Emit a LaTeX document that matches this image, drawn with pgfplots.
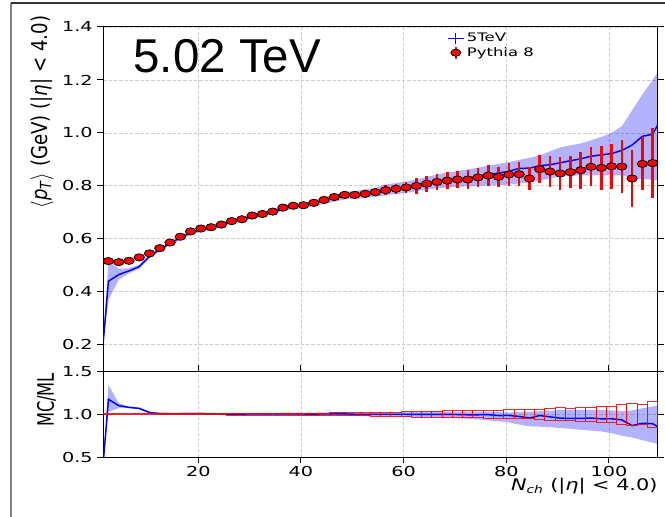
\documentclass[border=0pt]{standalone}
\usepackage{fontspec}
\setmainfont{DejaVu Sans}
\newfontfamily\widefont{DejaVu Sans}[FakeStretch=1.4]
\newfontfamily\xlabfont{DejaVu Sans}[FakeStretch=1.3]
\newfontfamily\titlefont{Liberation Sans}
\usepackage{pgfplots}
\usepackage{pgfplotstable}
\pgfplotsset{compat=1.18}
\usepgfplotslibrary{fillbetween}

\pgfplotstableread{
x y err e c
2.5 0.516 0.004 0.008 1
4.5 0.512 0.004 0.008 1
6.5 0.517 0.004 0.008 1
8.5 0.530 0.004 0.008 1
10.5 0.545 0.004 0.007 1
12.5 0.565 0.004 0.007 1
14.5 0.586 0.004 0.007 1
16.5 0.608 0.005 0.008 1
18.5 0.628 0.005 0.008 1
20.5 0.639 0.005 0.008 1
22.5 0.644 0.005 0.008 1
24.5 0.654 0.005 0.008 1
26.5 0.667 0.006 0.009 1
28.5 0.674 0.006 0.009 1
30.5 0.688 0.006 0.009 1
32.5 0.694 0.007 0.010 1
34.5 0.703 0.007 0.010 1
36.5 0.718 0.008 0.011 1
38.5 0.725 0.008 0.011 1
40.5 0.727 0.009 0.012 1
42.5 0.736 0.010 0.014 1
44.5 0.747 0.011 0.015 1
46.5 0.758 0.012 0.016 1
48.5 0.766 0.013 0.017 1
50.5 0.766 0.014 0.018 1
52.5 0.770 0.015 0.019 1
54.5 0.776 0.016 0.021 1
56.5 0.784 0.018 0.023 1
58.5 0.789 0.020 0.025 1
60.5 0.794 0.022 0.028 1
62.5 0.800 0.030 0.037 1
64.5 0.808 0.030 0.037 1
66.5 0.815 0.030 0.037 1
68.5 0.820 0.033 0.040 1
70.5 0.824 0.033 0.040 1
72.5 0.824 0.035 0.042 1
74.5 0.832 0.035 0.042 1
76.5 0.839 0.039 0.046 1
78.5 0.834 0.039 0.047 1
80.5 0.843 0.042 0.050 1
82.5 0.844 0.046 0.054 1
84.5 0.828 0.045 0.054 1
86.5 0.863 0.052 0.060 1
88.5 0.854 0.057 0.067 1
90.5 0.847 0.063 0.074 1
92.5 0.852 0.061 0.072 1
94.5 0.859 0.070 0.081 1
96.5 0.872 0.073 0.084 1
98.5 0.868 0.082 0.094 1
100.5 0.874 0.084 0.096 1
102.5 0.873 0.100 0.115 1
104.5 0.828 0.107 0.129 1
106.5 0.883 0.100 0.113 1
108.5 0.886 0.132 0.149 1
}\redtab

\pgfplotstableread{
x y lo hi
1.5 0.215 0.205 0.225
2.5 0.440 0.370 0.515
4.5 0.465 0.445 0.487
6.5 0.479 0.470 0.489
8.5 0.495 0.487 0.503
10.5 0.534 0.527 0.541
12.5 0.560 0.553 0.567
14.5 0.583 0.576 0.590
16.5 0.604 0.597 0.611
18.5 0.623 0.616 0.630
20.5 0.634 0.627 0.641
22.5 0.641 0.634 0.648
24.5 0.653 0.646 0.660
26.5 0.666 0.659 0.673
28.5 0.673 0.666 0.680
30.5 0.685 0.677 0.693
32.5 0.691 0.683 0.699
34.5 0.701 0.693 0.709
36.5 0.715 0.706 0.724
38.5 0.722 0.713 0.731
40.5 0.725 0.715 0.735
42.5 0.735 0.724 0.746
44.5 0.744 0.732 0.756
46.5 0.753 0.740 0.766
48.5 0.763 0.749 0.777
50.5 0.766 0.751 0.781
52.5 0.770 0.754 0.786
54.5 0.776 0.759 0.793
56.5 0.784 0.765 0.805
58.5 0.789 0.769 0.811
60.5 0.794 0.774 0.816
62.5 0.802 0.780 0.824
64.5 0.810 0.786 0.834
66.5 0.817 0.791 0.843
68.5 0.822 0.795 0.850
70.5 0.826 0.797 0.856
72.5 0.829 0.798 0.862
74.5 0.837 0.800 0.869
76.5 0.843 0.801 0.876
78.5 0.848 0.803 0.883
80.5 0.855 0.805 0.890
82.5 0.866 0.809 0.898
84.5 0.867 0.813 0.906
86.5 0.876 0.820 0.915
88.5 0.880 0.828 0.930
90.5 0.887 0.835 0.945
92.5 0.895 0.838 0.953
94.5 0.902 0.840 0.960
96.5 0.912 0.840 0.972
98.5 0.917 0.840 0.985
100.5 0.922 0.840 1.000
102.5 0.934 0.840 1.025
104.5 0.954 0.830 1.085
106.5 0.987 0.826 1.145
108.5 0.995 0.823 1.200
109.5 1.030 0.820 1.230
}\bluetab

\pgfplotstableread{
x r rlo rhi
1.5 0.45 0.44 0.47
2.5 1.174 1.03 1.34
4.5 1.100 1.07 1.13
6.5 1.080 1.07 1.09
8.5 1.068 1.058 1.078
10.5 1.020 1.010 1.030
12.5 1.008 0.998 1.018
14.5 1.006 0.996 1.016
16.5 1.006 0.996 1.016
18.5 1.008 0.997 1.019
20.5 1.008 0.997 1.019
22.5 1.004 0.993 1.015
24.5 1.002 0.991 1.013
26.5 1.002 0.991 1.013
28.5 1.002 0.990 1.014
30.5 1.004 0.992 1.016
32.5 1.004 0.991 1.017
34.5 1.003 0.990 1.016
36.5 1.004 0.990 1.018
38.5 1.004 0.990 1.018
40.5 1.003 0.988 1.018
42.5 1.002 0.986 1.018
44.5 1.004 0.987 1.021
46.5 1.006 0.988 1.024
48.5 1.004 0.985 1.023
50.5 1.000 0.980 1.020
52.5 1.000 0.979 1.021
54.5 1.000 0.978 1.022
56.5 1.000 0.975 1.025
58.5 1.000 0.974 1.026
60.5 1.000 0.972 1.028
62.5 0.998 0.968 1.028
64.5 0.998 0.965 1.029
66.5 0.998 0.962 1.030
68.5 0.998 0.958 1.030
70.5 0.997 0.953 1.030
72.5 0.994 0.947 1.030
74.5 0.994 0.940 1.030
76.5 0.995 0.930 1.028
78.5 0.985 0.918 1.025
80.5 0.986 0.905 1.020
82.5 0.975 0.880 1.025
84.5 0.955 0.860 1.030
86.5 0.985 0.855 1.035
88.5 0.970 0.850 1.040
90.5 0.955 0.840 1.050
92.5 0.952 0.830 1.050
94.5 0.952 0.820 1.050
96.5 0.956 0.810 1.050
98.5 0.947 0.800 1.050
100.5 0.948 0.780 1.045
102.5 0.935 0.750 1.035
104.5 0.868 0.730 1.045
106.5 0.895 0.700 1.070
108.5 0.890 0.670 1.090
109.5 0.857 0.655 1.100
}\ratiotab

\pgfdeclareplotmark{nothing}{}

\pgfplotsset{
  panel/.style={
    scale only axis, width=415.8pt,
    xmin=1.5, xmax=109.5,
    axis line style={black, line width=0.75pt},
    tick align=outside, major tick length=4.5pt,
    tick style={black, line width=0.75pt},
    grid=major,
    major grid style={gray!40, dash pattern=on 2.4pt off 1.6pt, line width=0.6pt},
    ticklabel style={font=\widefont\fontsize{10.3}{12}\selectfont},
    /pgf/number format/assume math mode=true,
    xtick={20,40,60,80,100},
  },
}

\begin{document}
\begin{tikzpicture}[x=0.75pt,y=0.75pt]
% upper panel
\begin{axis}[panel,
  at={(77.5pt,109.3pt)}, anchor=south west, height=258.2pt,
  ymin=0.1, ymax=1.4,
  ytick={0.2,0.4,0.6,0.8,1.0,1.2,1.4},
  yticklabel style={/pgf/number format/.cd, fixed, fixed zerofill, precision=1},
  xmajorticks=false,
  ylabel={\scalebox{1}[1.2]{$\langle$\textit{p}\textsubscript{\textit{T}}$\rangle$ (GeV) (|\textit{η}| < 4.0)}},
  ylabel style={at={(axis description cs:-0.1106,0.753)}, anchor=center, font=\fontsize{13.6}{15}\selectfont},
  legend style={at={(0.62,0.99)}, anchor=north west, draw=none, fill=none,
    font=\widefont\fontsize{8.8}{10}\selectfont, inner sep=0pt, row sep=-1.5pt},
  legend cell align=left,
]
\addplot[name path=bhi, draw=none, forget plot] table[x=x,y=hi]{\bluetab};
\addplot[name path=blo, draw=none, forget plot] table[x=x,y=lo]{\bluetab};
\addplot[fill=blue, fill opacity=0.3, draw=none, forget plot] fill between[of=bhi and blo];
\addplot[blue, line width=1.1pt, forget plot] table[x=x,y=y]{\bluetab};
\addplot[forget plot, only marks, mark=*, mark size=2.7pt,
  mark options={fill=red, draw=black, line width=0.6pt, xscale=1.45},
  error bars/.cd, y dir=both, y explicit,
  error bar style={red, line width=1.9pt}, error mark=none,
  ] table[x=x,y=y,y error=err]{\redtab};
\addlegendimage{legend image code/.code={
  \draw[blue, line width=0.75pt] (0.3cm-6pt,0) -- (0.3cm+6pt,0);
  \draw[blue, line width=0.75pt] (0.3cm,-4pt) -- (0.3cm,4pt);}}
\addlegendentry{5TeV}
\addlegendimage{legend image code/.code={
  \draw[red, line width=1.5pt] (0.3cm,-4.5pt) -- (0.3cm,4.5pt);
  \draw[fill=red, draw=black, line width=0.5pt] (0.3cm,0) ellipse (3.8pt and 2.7pt);}}
\addlegendentry{Pythia 8}
\node[anchor=base west, inner sep=0pt, font=\titlefont\fontsize{35.6}{40}\selectfont]
  at (rel axis cs:0.054,0.8685) {5.02 TeV};
\end{axis}
% lower panel
\begin{axis}[panel,
  at={(77.5pt,44.8pt)}, anchor=south west, height=64.5pt,
  ymin=0.5, ymax=1.5,
  ytick={0.5,1.0,1.5},
  yticklabel style={/pgf/number format/.cd, fixed, fixed zerofill, precision=1},
  xticklabel style={yshift=1.5pt},
  xlabel={\xlabfont\fontsize{12}{14}\selectfont\textit{N}\textsubscript{\textit{ch}} (|\textit{η}| < 4.0)},
  xlabel style={at={(axis description cs:1,0)}, anchor=north east, inner sep=0pt, yshift=-15.5pt},
  ylabel={\scalebox{1}[1.4]{MC/ML}},
  ylabel style={at={(axis description cs:-0.1025,0.666)}, anchor=center, font=\fontsize{12.2}{14}\selectfont},
]
\addplot[name path=rhi, draw=none] table[x=x,y=rhi]{\ratiotab};
\addplot[name path=rlo, draw=none] table[x=x,y=rlo]{\ratiotab};
\addplot[fill=blue, fill opacity=0.3, draw=none] fill between[of=rhi and rlo];
\addplot[only marks, mark=nothing, scatter,
  visualization depends on={\thisrow{e} \as \relerr},
  scatter/@pre marker code/.code={%
    \draw[red, opacity=0.85, line width=0.7pt] (axis direction cs:-1,-\relerr) rectangle (axis direction cs:1,\relerr);},
  scatter/@post marker code/.code={},
] table[x=x,y=c]{\redtab};
\addplot[blue, line width=1.1pt] table[x=x,y=r]{\ratiotab};
\end{axis}
\draw[gray, line width=0.9pt] (11,0) -- (11,514);
\draw[black!80, line width=1pt] (11,514) -- (665,514);
\pgfresetboundingbox
\path[use as bounding box] (0,0) rectangle (665,517);
\end{tikzpicture}
\end{document}
